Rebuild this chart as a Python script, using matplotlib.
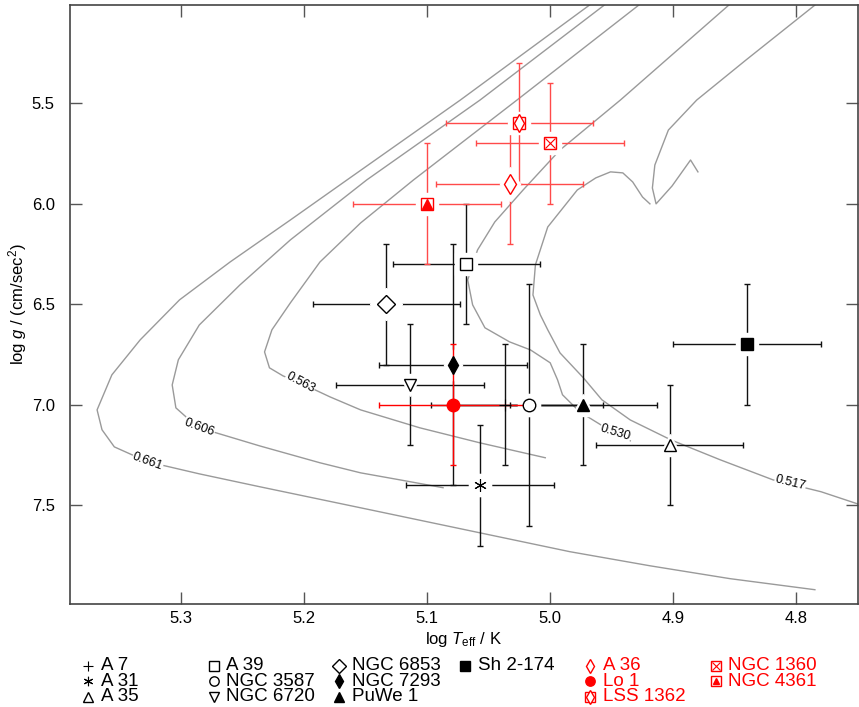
import matplotlib.pyplot as plt

plt.rcParams['font.family'] = ['Liberation Sans', 'DejaVu Sans']
plt.rcParams['mathtext.fontset'] = 'custom'
plt.rcParams['mathtext.rm'] = 'Liberation Sans'
plt.rcParams['mathtext.it'] = 'Liberation Sans:italic'

# central stars: log Teff / log g with 1-sigma errors
names = ['A 7', 'A 31', 'A 35', 'A 39', 'NGC 3587', 'NGC 6720', 'NGC 6853',
         'NGC 7293', 'PuWe 1', 'Sh 2-174', 'A 36', 'Lo 1', 'LSS 1362',
         'NGC 1360', 'NGC 4361']
log_teff = [5.037, 5.057, 4.903, 5.068, 5.017, 5.114, 5.133,
            5.079, 4.973, 4.840, 5.033, 5.079, 5.025, 5.000, 5.100]
log_g = [7.0, 7.4, 7.2, 6.3, 7.0, 6.9, 6.5, 6.8, 7.0, 6.7, 5.9, 7.0, 5.6, 5.7, 6.0]
err_teff = [0.06, 0.06, 0.06, 0.06, 0.06, 0.06, 0.06, 0.06,
            0.06, 0.06, 0.06, 0.06, 0.06, 0.06, 0.06]
err_g = [0.3, 0.3, 0.3, 0.3, 0.6, 0.3, 0.3, 0.6, 0.3, 0.3, 0.3, 0.3, 0.3, 0.3, 0.3]
colors = ['k'] * 10 + ['red'] * 5
bar_colors = ['#111111'] * 10 + ['#ff4a4a', 'red', '#ff4a4a', '#ff4a4a', '#ff4a4a']

# legend grid (column, row)
leg_col = [0, 0, 0, 1, 1, 1, 2, 2, 2, 3, 4, 4, 4, 5, 5]
leg_row = [0, 1, 2, 0, 1, 2, 0, 1, 2, 0, 0, 1, 2, 0, 1]

# marker layers: (marker, filled, size)
symbols = [
    [('+', True, 9)],
    [((6, 2, 0), True, 9)],
    [('^', False, 9)],
    [('s', False, 9)],
    [('o', False, 9)],
    [('v', False, 9)],
    [('D', False, 9)],
    [('d', True, 9)],
    [('^', True, 9)],
    [('s', True, 9)],
    [('d', False, 10)],
    [('o', True, 9)],
    [('s', False, 9), ('d', False, 9)],
    [('s', False, 9), ('x', False, 7)],
    [('s', False, 9), ('^', True, 6.5)],
]
halo = [False, True, True, True, True, True, True, True, True, True,
        True, False, True, True, True]

# post-AGB tracks (mass in Msun), one or more pieces each: log Teff, log g
tracks = [
    ('0.661',
     [4.967, 5.073, 5.165, 5.211, 5.260, 5.301, 5.333, 5.356, 5.368,
      5.364, 5.354, 5.327, 5.285, 5.236, 5.146, 5.065, 4.984, 4.919,
      4.854, 4.785],
     [5.008, 5.485, 5.882, 6.081, 6.290, 6.478, 6.677, 6.851, 7.025,
      7.124, 7.209, 7.283, 7.343, 7.407, 7.522, 7.626, 7.730, 7.800,
      7.864, 7.919]),
    ('0.606',
     [4.955, 5.057, 5.149, 5.211, 5.252, 5.285, 5.302, 5.307, 5.304,
      5.293, 5.285, 5.236, 5.187, 5.154, 5.122, 5.087],
     [5.008, 5.485, 5.882, 6.180, 6.404, 6.603, 6.776, 6.901, 7.015,
      7.075, 7.114, 7.204, 7.288, 7.338, 7.373, 7.412]),
    ('0.563',
     [4.927, 5.027, 5.111, 5.154, 5.187, 5.211, 5.226, 5.232, 5.228,
      5.217, 5.203, 5.179, 5.154, 5.106, 5.057, 5.004],
     [5.008, 5.485, 5.882, 6.096, 6.290, 6.493, 6.627, 6.737, 6.816,
      6.856, 6.891, 6.960, 7.025, 7.114, 7.189, 7.263]),
    ('0.530',
     [4.854, 4.943, 4.992, 5.022, 5.045, 5.059, 5.067, 5.063, 5.053,
      5.033, 5.016, 5.000, 4.994, 4.990, 4.976, 4.959, 4.947, 4.935],
     [5.008, 5.485, 5.733, 5.932, 6.091, 6.230, 6.379, 6.503, 6.617,
      6.687, 6.727, 6.791, 6.876, 6.950, 7.035, 7.099, 7.139, 7.179]),
    ('0.517',
     [4.785, 4.841, 4.881, 4.904, 4.915, 4.917, 4.914, 4.901, 4.886, 4.880],
     [5.013, 5.286, 5.485, 5.634, 5.808, 5.922, 6.001, 5.912, 5.783, 5.842]),
    ('0.517',
     [4.919, 4.925, 4.933, 4.941, 4.951, 4.963, 4.978, 5.002, 5.012, 5.014,
      5.008, 5.002, 4.992, 4.973, 4.958, 4.935, 4.902, 4.862, 4.819, 4.780,
      4.748],
     [6.001, 5.967, 5.892, 5.847, 5.842, 5.872, 5.932, 6.116, 6.304, 6.454,
      6.553, 6.627, 6.742, 6.866, 6.975, 7.075, 7.174, 7.273, 7.373, 7.432,
      7.497]),
]
# label position and angle along each track
track_labels = {
    '0.661': (5.327, 7.283, -20),
    '0.606': (5.285, 7.114, -20),
    '0.563': (5.203, 6.891, -28),
    '0.530': (4.947, 7.139, -17),
    '0.517': (4.805, 7.387, -14),
}

W, H = 859, 707
fig = plt.figure(figsize=(W / 100, H / 100), dpi=100)
ax = fig.add_axes([70 / W, 1 - 604 / H, 788 / W, 599.5 / H])

for name, t, g in tracks:
    ax.plot(t, g, color='#9a9a9a', lw=1.0, zorder=1)
for name, (lt, lg, rot) in track_labels.items():
    ax.text(lt, lg, name, fontsize=9, rotation=rot, ha='center', va='center',
            zorder=1.5, bbox=dict(fc='white', ec='none', pad=0.3))


def draw_symbol(axis, x, y, layers, color, scale=1.0, z=4):
    for m, filled, s in layers:
        axis.plot([x], [y], linestyle='none', marker=m, ms=s * scale,
                  mec=color, mfc=color if filled else 'white',
                  mew=0.8 if m in ['+', 'x'] or isinstance(m, tuple) else 1.0,
                  zorder=z)


for i in range(len(names)):
    red = colors[i] == 'red'
    ax.errorbar(log_teff[i], log_g[i], xerr=err_teff[i], yerr=err_g[i],
                fmt='none', ecolor=bar_colors[i], elinewidth=1.0, capsize=2.2,
                capthick=1.0, zorder=3 if red else 2)
    if halo[i]:
        m, _, s = symbols[i][0]
        if m in ['+', 'x'] or isinstance(m, tuple):
            m = 'o'
        ax.plot([log_teff[i]], [log_g[i]], linestyle='none', marker=m,
                ms=s + 7, color='white', zorder=3.5 if red else 2.5)
    draw_symbol(ax, log_teff[i], log_g[i], symbols[i], colors[i])

ax.set_xlim(5.39, 4.75)
ax.set_ylim(7.99, 5.01)
ax.set_xticks([5.3, 5.2, 5.1, 5.0, 4.9, 4.8])
ax.set_xticklabels(['5.3', '5.2', '5.1', '5.0', '4.9', '4.8'])
ax.set_yticks([5.5, 6.0, 6.5, 7.0, 7.5])
ax.set_yticklabels(['5.5', '6.0', '6.5', '7.0', '7.5'])
ax.tick_params(direction='in', top=True, right=True, length=8.5, width=1.0,
               color='#555555', labelsize=12)
ax.tick_params(axis='x', pad=5)
ax.tick_params(axis='y', pad=11)
for sp in ax.spines.values():
    sp.set_color('#444444')
    sp.set_linewidth(1.2)
ax.set_xlabel(r'log $T_{\rm eff}$ / K', fontsize=12, labelpad=3)
ax.set_ylabel(r'log $g$ / (cm/sec$^2$)', fontsize=12)
ax.yaxis.set_label_coords(-0.052, 0.5)

# legend below the plot, laid out on a fixed grid
lax = fig.add_axes([0, 0, 1, 1], zorder=-1)
lax.set_xlim(0, W)
lax.set_ylim(H, 0)
lax.axis('off')
for i in range(len(names)):
    mx = 88 + 125.5 * leg_col[i]
    my = 665.5 + 15.5 * leg_row[i]
    draw_symbol(lax, mx, my, symbols[i], colors[i], scale=0.75)
    lax.text(mx + 13, my, names[i], fontsize=13.5, color=colors[i],
             ha='left', va='center')

fig.savefig('out.png', dpi=100)
